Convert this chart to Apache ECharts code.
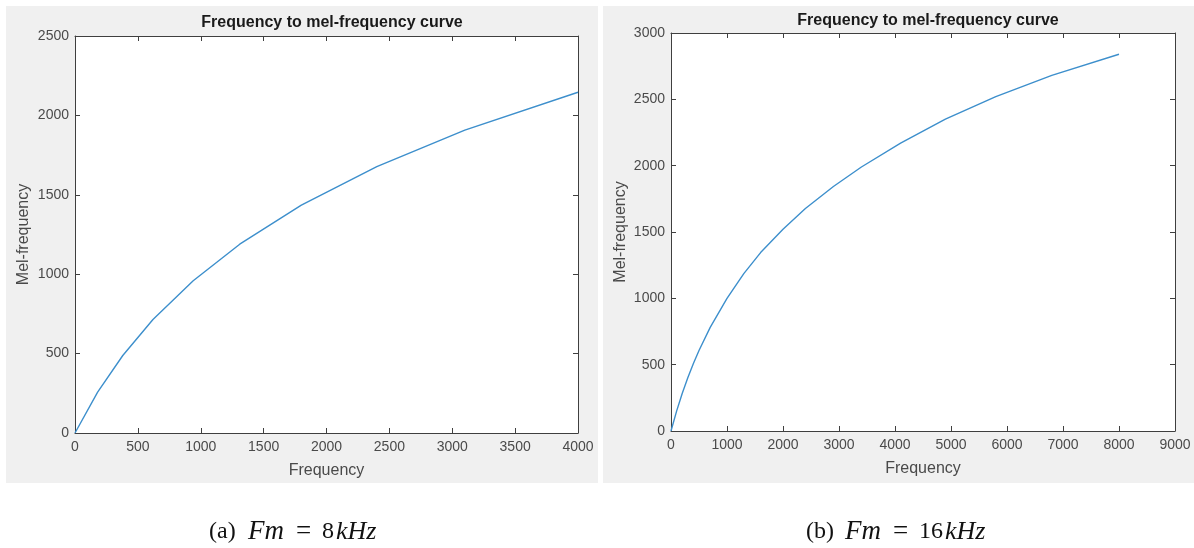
<!DOCTYPE html>
<html>
<head>
<meta charset="utf-8">
<script src="https://cdn.jsdelivr.net/npm/echarts@6/dist/echarts.min.js"></script>
<style>
html,body{margin:0;padding:0;background:#fff;}
#c{width:1194px;height:548px;}
</style>
</head>
<body>
<div id="c"></div>
<script>
// Panel (a): Fm = 8kHz
const freqA = [0, 180, 380, 620, 940, 1310, 1800, 2400, 3100, 4000];
const melA  = [0, 257, 488, 715, 959, 1189, 1435, 1677, 1907, 2146];
// Panel (b): Fm = 16kHz
const freqB = [0, 100, 200, 300, 400, 500, 700, 1000, 1300, 1600, 2000, 2400, 2900, 3400, 4100, 4900, 5800, 6800, 8000];
const melB  = [0, 150, 283, 402, 509, 607, 781, 1000, 1186, 1345, 1521, 1677, 1843, 1990, 2170, 2350, 2520, 2680, 2840];

const titleText = 'Frequency to mel-frequency curve';
const xName = 'Frequency';
const yName = 'Mel-frequency';
const xTicksA = {min: 0, max: 4000, interval: 500};
const yTicksA = {min: 0, max: 2500, interval: 500};
const xTicksB = {min: 0, max: 9000, interval: 1000};
const yTicksB = {min: 0, max: 3000, interval: 500};
const captionA = ['(a)', 'Fm', '=', '8', 'kHz'];
const captionB = ['(b)', 'Fm', '=', '16', 'kHz'];

const FONT = '"Liberation Sans", Arial, Helvetica, sans-serif';
const SERIF = '"Liberation Serif", "DejaVu Serif", serif';
const axisCol = '#3f3f3f';
const labelCol = '#4a4a4a';
const lineCol = '#3d8fcc';
const plain = v => String(v);

function mainX(grid, t) {
  return {
    type: 'value', gridIndex: grid, min: t.min, max: t.max, interval: t.interval,
    name: xName, nameLocation: 'middle', nameGap: 30,
    nameTextStyle: {color: labelCol, fontSize: 16, fontFamily: FONT},
    axisLine: {show: true, onZero: false, lineStyle: {color: axisCol, width: 1}},
    axisTick: {show: true, inside: true, length: 5, lineStyle: {color: axisCol}},
    axisLabel: {color: labelCol, fontSize: 14, fontFamily: FONT, margin: 7, formatter: plain, showMinLabel: true, showMaxLabel: true},
    splitLine: {show: false}
  };
}
function mirrorX(grid, t) {
  return {
    type: 'value', gridIndex: grid, position: 'top', min: t.min, max: t.max, interval: t.interval,
    axisLine: {show: true, onZero: false, lineStyle: {color: axisCol, width: 1}},
    axisTick: {show: true, inside: true, length: 5, lineStyle: {color: axisCol}},
    axisLabel: {show: false}, splitLine: {show: false}
  };
}
function mainY(grid, t, gap) {
  return {
    type: 'value', gridIndex: grid, min: t.min, max: t.max, interval: t.interval,
    name: yName, nameLocation: 'middle', nameGap: gap, nameRotate: 90,
    nameTextStyle: {color: labelCol, fontSize: 16, fontFamily: FONT},
    axisLine: {show: true, onZero: false, lineStyle: {color: axisCol, width: 1}},
    axisTick: {show: true, inside: true, length: 5, lineStyle: {color: axisCol}},
    axisLabel: {color: labelCol, fontSize: 14, fontFamily: FONT, margin: 6, formatter: plain, showMinLabel: true, showMaxLabel: true},
    splitLine: {show: false}
  };
}
function mirrorY(grid, t) {
  return {
    type: 'value', gridIndex: grid, position: 'right', min: t.min, max: t.max, interval: t.interval,
    axisLine: {show: true, onZero: false, lineStyle: {color: axisCol, width: 1}},
    axisTick: {show: true, inside: true, length: 5, lineStyle: {color: axisCol}},
    axisLabel: {show: false}, splitLine: {show: false}
  };
}
function caption(x, parts) {
  const w = [39, 48, 26, parts[3].length === 1 ? 14 : 26, 50];
  return {type: 'text', x: x, y: 532, silent: true, style: {
    text: '{p0|' + parts[0] + '}{p1|' + parts[1] + '}{p2|' + parts[2] + '}{p3|' + parts[3] + '}{p4|' + parts[4] + '}',
    align: 'left', verticalAlign: 'middle',
    rich: {
      p0: {fontSize: 24, fontFamily: SERIF, fill: '#111', width: w[0]},
      p1: {fontSize: 27, fontStyle: 'italic', fontFamily: SERIF, fill: '#111', width: w[1]},
      p2: {fontSize: 27, fontFamily: SERIF, fill: '#111', width: w[2]},
      p3: {fontSize: 24, fontFamily: SERIF, fill: '#111', width: w[3]},
      p4: {fontSize: 26, fontStyle: 'italic', fontFamily: SERIF, fill: '#111', width: w[4]}
    }}};
}

const chart = echarts.init(document.getElementById('c'), null, {renderer: 'canvas'});
const option = {
  animation: false,
  backgroundColor: '#ffffff',
  title: [
    {text: titleText, left: 327, top: 10, textAlign: 'center',
     textStyle: {fontSize: 16, fontWeight: 'bold', color: '#1a1a1a', fontFamily: FONT}},
    {text: titleText, left: 923, top: 8, textAlign: 'center',
     textStyle: {fontSize: 16, fontWeight: 'bold', color: '#1a1a1a', fontFamily: FONT}}
  ],
  graphic: [
    {type: 'rect', left: 6, top: 6, z: -10, silent: true,
     shape: {width: 592, height: 477}, style: {fill: '#f0f0f0'}},
    {type: 'rect', left: 603, top: 6, z: -10, silent: true,
     shape: {width: 591, height: 477}, style: {fill: '#f0f0f0'}},
    caption(209, captionA),
    caption(806, captionB)
  ],
  grid: [
    {left: 75, top: 36, width: 503, height: 397, show: true, backgroundColor: '#ffffff', borderWidth: 0, containLabel: false},
    {left: 671, top: 33, width: 504, height: 398, show: true, backgroundColor: '#ffffff', borderWidth: 0, containLabel: false}
  ],
  xAxis: [mainX(0, xTicksA), mirrorX(0, xTicksA), mainX(1, xTicksB), mirrorX(1, xTicksB)],
  yAxis: [mainY(0, yTicksA, 43), mirrorY(0, yTicksA), mainY(1, yTicksB, 42), mirrorY(1, yTicksB)],
  series: [
    {type: 'line', xAxisIndex: 0, yAxisIndex: 0, showSymbol: false, smooth: false,
     lineStyle: {color: lineCol, width: 1.4},
     data: freqA.map((f, i) => [f, melA[i]])},
    {type: 'line', xAxisIndex: 2, yAxisIndex: 2, showSymbol: false, smooth: false,
     lineStyle: {color: lineCol, width: 1.4},
     data: freqB.map((f, i) => [f, melB[i]])}
  ]
};
chart.setOption(option);
</script>
</body>
</html>
